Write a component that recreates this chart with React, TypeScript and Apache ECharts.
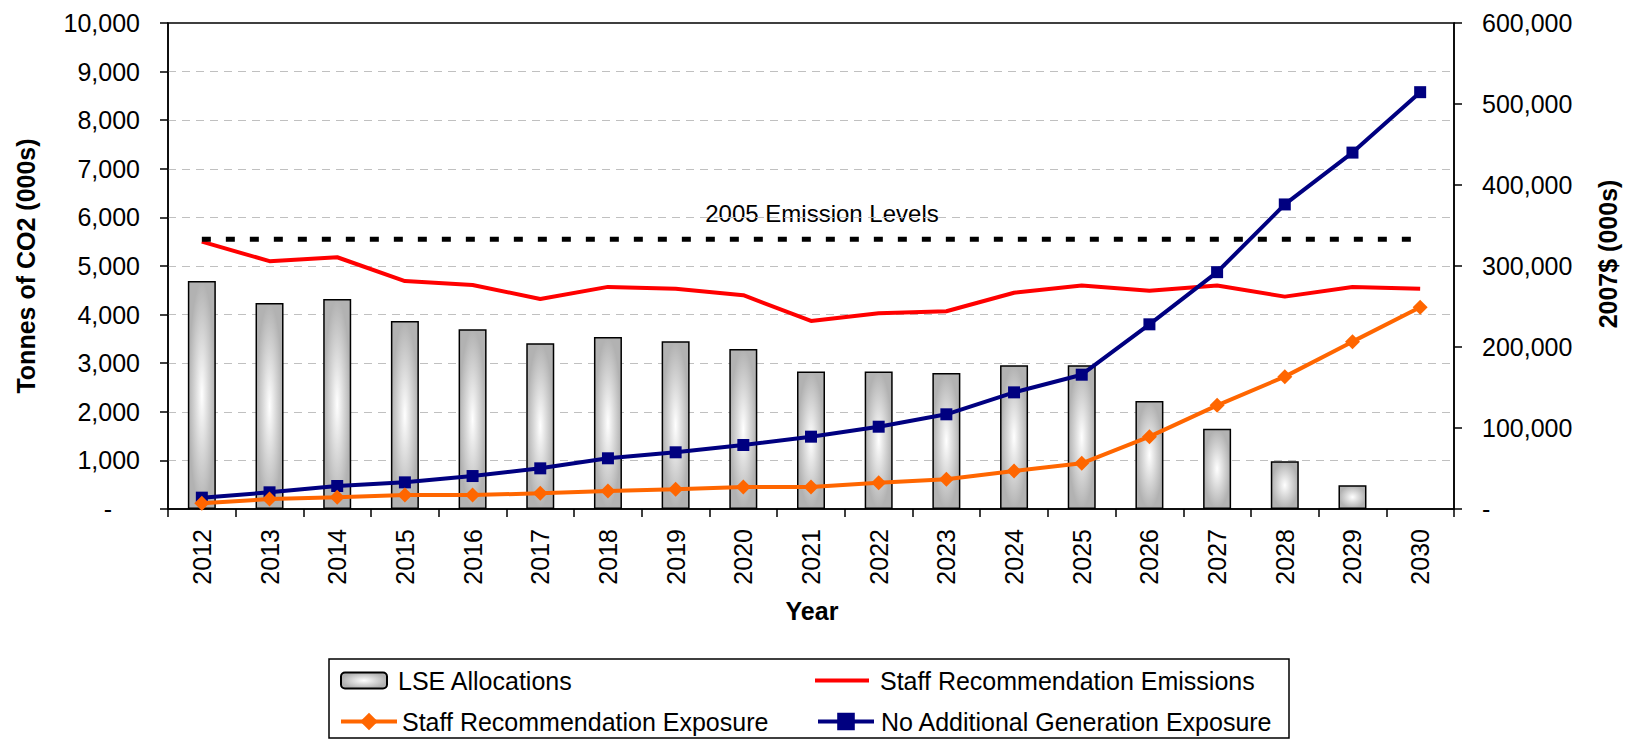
import React, { useEffect, useRef } from "react";
import * as echarts from "echarts";

const FONT = '"Liberation Sans", Arial, Helvetica, sans-serif';

const years = ["2012", "2013", "2014", "2015", "2016", "2017", "2018", "2019", "2020", "2021", "2022", "2023", "2024", "2025", "2026", "2027", "2028", "2029", "2030"];

// Tonnes of CO2 (000s) – left axis
const lseAllocations = [4690, 4240, 4320, 3870, 3700, 3410, 3540, 3450, 3290, 2830, 2830, 2800, 2960, 2960, 2220, 1650, 980, 490, null];
const staffEmissions = [5500, 5100, 5180, 4690, 4610, 4320, 4570, 4530, 4400, 3870, 4030, 4070, 4450, 4600, 4490, 4600, 4370, 4570, 4530];
const emissionLevel2005 = [5550, 5550, 5550, 5550, 5550, 5550, 5550, 5550, 5550, 5550, 5550, 5550, 5550, 5550, 5550, 5550, 5550, 5550, 5550];

// 2007$ (000s) – right axis
const staffExposure = [7000, 12300, 14400, 17300, 17300, 19300, 22200, 24300, 27200, 27200, 32500, 36600, 46900, 56400, 89300, 128000, 163400, 206600, 249000];
const noAddGenExposure = [14000, 20600, 28400, 32900, 40700, 50200, 62600, 70000, 79000, 89300, 101600, 116900, 144000, 165800, 228000, 292400, 376000, 440000, 514600];

const fmt = (v: number) => v.toLocaleString("en-US");

export default function App() {
  const ref = useRef<HTMLDivElement>(null);

  useEffect(() => {
    document.body.style.margin = "0";
    if (!ref.current) return;
    const chart = echarts.init(ref.current, null, { renderer: "svg" });

    const legendText = (padLeft: number) => ({
      fontSize: 25,
      fontFamily: FONT,
      color: "#000",
      padding: [0, 0, 0, padLeft],
    });
    const legendCommon = {
      orient: "horizontal",
      padding: 0,
      itemGap: 0,
      selectedMode: false,
      lineStyle: { width: 4 },
    };

    const barFill = new echarts.graphic.RadialGradient(0.5, 0.5, 0.5, [
      { offset: 0, color: "#ffffff" },
      { offset: 0.55, color: "#d4d4d4" },
      { offset: 1, color: "#b2b2b2" },
    ]);

    const option = {
      animation: false,
      backgroundColor: "#fff",
      textStyle: { fontFamily: FONT },
      grid: {
        left: 168,
        right: 183,
        top: 23,
        bottom: 231,
        show: true,
        borderColor: "#000",
        borderWidth: 1.5,
        backgroundColor: "transparent",
      },
      legend: [
        { ...legendCommon, left: 340, top: 668, itemWidth: 46, itemHeight: 16, textStyle: legendText(6), data: ["LSE Allocations"] },
        {
          ...legendCommon,
          left: 815,
          top: 668,
          itemWidth: 54,
          itemHeight: 4,
          textStyle: legendText(6),
          data: [{ name: "Staff Recommendation Emissions", icon: "rect" }],
        },
        { ...legendCommon, left: 339, top: 709, itemWidth: 56, itemHeight: 22, textStyle: legendText(0), data: ["Staff Recommendation Exposure"] },
        { ...legendCommon, left: 816, top: 709, itemWidth: 56, itemHeight: 22, textStyle: legendText(2), data: ["No Additional Generation Exposure"] },
      ],
      xAxis: {
        type: "category",
        data: years,
        boundaryGap: true,
        axisLine: { lineStyle: { color: "#000", width: 1.5 } },
        axisTick: { show: true, length: 8, interval: 0, lineStyle: { color: "#000", width: 1.5 } },
        axisLabel: {
          interval: 0,
          rotate: 90,
          margin: 20,
          fontSize: 25,
          fontFamily: FONT,
          color: "#000",
        },
        splitLine: { show: false },
      },
      yAxis: [
        {
          type: "value",
          min: 0,
          max: 10000,
          interval: 1000,
          position: "left",
          axisLine: { show: true, lineStyle: { color: "#000", width: 1.5 } },
          axisTick: { show: true, length: 8, lineStyle: { color: "#000", width: 1.5 } },
          axisLabel: {
            margin: 28,
            fontSize: 25,
            fontFamily: FONT,
            color: "#000",
            formatter: (v: number) => (v === 0 ? "{z|-}" : fmt(v)),
            rich: { z: { fontSize: 25, fontFamily: FONT, color: "#000", padding: [0, 28, 0, 0] } },
          },
          splitLine: {
            show: true,
            showMinLine: false,
            showMaxLine: false,
            lineStyle: { color: "#c0c0c0", width: 1.2, type: [8, 6] },
          },
        },
        {
          type: "value",
          min: 0,
          max: 600000,
          interval: 100000,
          position: "right",
          axisLine: { show: true, lineStyle: { color: "#000", width: 1.5 } },
          axisTick: { show: true, length: 8, lineStyle: { color: "#000", width: 1.5 } },
          axisLabel: {
            margin: 28,
            fontSize: 25,
            fontFamily: FONT,
            color: "#000",
            formatter: (v: number) => (v === 0 ? "-" : fmt(v)),
          },
          splitLine: { show: false },
        },
      ],
      series: [
        {
          name: "LSE Allocations",
          type: "bar",
          yAxisIndex: 0,
          data: lseAllocations,
          barWidth: 28,
          itemStyle: { color: barFill, borderColor: "#000", borderWidth: 1.5 },
          z: 1,
        },
        {
          name: "Staff Recommendation Emissions",
          type: "line",
          yAxisIndex: 0,
          data: staffEmissions,
          symbol: "none",
          lineStyle: { color: "#ff0000", width: 4 },
          itemStyle: { color: "#ff0000" },
          z: 3,
        },
        {
          name: "2005 Emission Levels",
          type: "line",
          yAxisIndex: 0,
          data: emissionLevel2005,
          symbol: "none",
          lineStyle: { color: "#000", width: 5, type: [9, 15] },
          itemStyle: { color: "#000" },
          z: 3,
        },
        {
          name: "No Additional Generation Exposure",
          type: "line",
          yAxisIndex: 1,
          data: noAddGenExposure,
          symbol: "rect",
          symbolSize: 12,
          lineStyle: { color: "#000080", width: 4 },
          itemStyle: { color: "#000080" },
          z: 4,
        },
        {
          name: "Staff Recommendation Exposure",
          type: "line",
          yAxisIndex: 1,
          data: staffExposure,
          symbol: "diamond",
          symbolSize: 15,
          lineStyle: { color: "#ff6600", width: 4 },
          itemStyle: { color: "#ff6600" },
          z: 5,
        },
      ],
      graphic: [
        {
          type: "text",
          x: 822,
          y: 213,
          style: { text: "2005 Emission Levels", fontSize: 24, fontFamily: FONT, fill: "#000", align: "center", verticalAlign: "middle" },
        },
        {
          type: "text",
          x: 26,
          y: 266,
          rotation: Math.PI / 2,
          style: { text: "Tonnes of CO2 (000s)", fontSize: 25, fontWeight: "bold", fontFamily: FONT, fill: "#000", align: "center", verticalAlign: "middle" },
        },
        {
          type: "text",
          x: 1608,
          y: 254,
          rotation: Math.PI / 2,
          style: { text: "2007$ (000s)", fontSize: 25, fontWeight: "bold", fontFamily: FONT, fill: "#000", align: "center", verticalAlign: "middle" },
        },
        {
          type: "text",
          x: 812,
          y: 611,
          style: { text: "Year", fontSize: 25, fontWeight: "bold", fontFamily: FONT, fill: "#000", align: "center", verticalAlign: "middle" },
        },
        {
          type: "rect",
          shape: { x: 329, y: 659, width: 960, height: 79 },
          style: { fill: "none", stroke: "#000", lineWidth: 1.5 },
          z: -1,
        },
      ],
    };

    chart.setOption(option as any);
    return () => chart.dispose();
  }, []);

  return <div ref={ref} style={{ width: 1637, height: 740 }} />;
}
